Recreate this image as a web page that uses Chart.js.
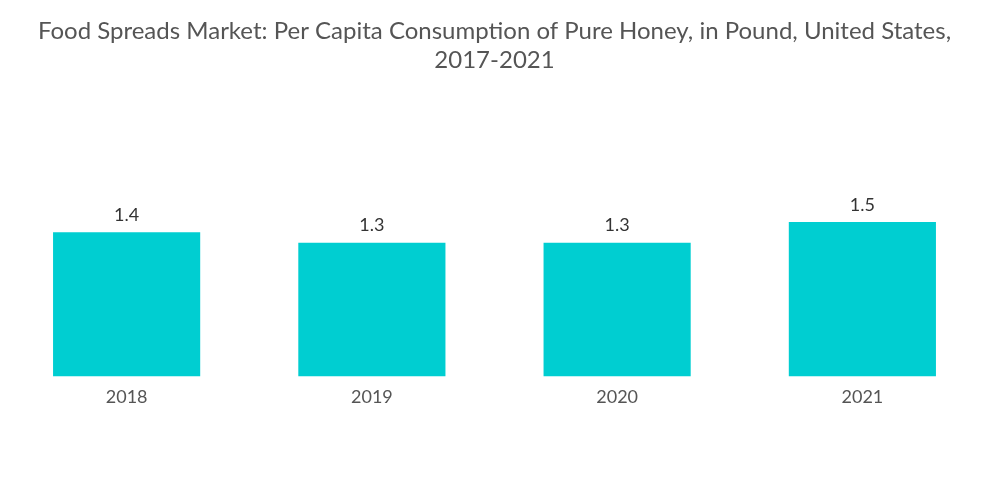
<!DOCTYPE html>
<html>
<head>
<meta charset="utf-8">
<script src="https://cdn.jsdelivr.net/npm/chart.js@4/dist/chart.umd.min.js"></script>
<style>
html,body{margin:0;padding:0;background:#fff;}
#wrap{width:1000px;height:504px;position:relative;}
</style>
</head>
<body>
<div id="wrap"><canvas id="c"></canvas></div>
<script>
const categories = ["2018", "2019", "2020", "2021"];
const values = [1.4, 1.3, 1.3, 1.5];
const valueLabels = ["1.4", "1.3", "1.3", "1.5"];
const titleLines = ["Food Spreads Market: Per Capita Consumption of Pure Honey, in Pound, United States,", "2017-2021"];

const FONT = "Lato, 'Noto Sans', sans-serif";

const valueLabelPlugin = {
  id: 'valueLabels',
  afterDatasetsDraw(chart) {
    const ctx = chart.ctx;
    const meta = chart.getDatasetMeta(0);
    ctx.save();
    ctx.font = "18px " + FONT;
    ctx.fillStyle = "#333333";
    ctx.textAlign = "center";
    ctx.textBaseline = "bottom";
    meta.data.forEach((bar, i) => {
      ctx.fillText(valueLabels[i], bar.x, bar.y - 8);
    });
    ctx.restore();
  }
};

new Chart(document.getElementById('c'), {
  type: 'bar',
  data: {
    labels: categories,
    datasets: [{
      data: values,
      backgroundColor: '#00CED1',
      borderWidth: 0,
      categoryPercentage: 1.0,
      barPercentage: 0.6
    }]
  },
  options: {
    responsive: true,
    maintainAspectRatio: false,
    animation: false,
    layout: { padding: { left: 4, right: 15, top: 0, bottom: 94 } },
    plugins: {
      legend: { display: false },
      tooltip: { enabled: false },
      title: {
        display: true,
        text: titleLines,
        color: '#555555',
        font: { family: FONT, size: 24, weight: 'normal', lineHeight: 1.2 },
        padding: { top: 17, bottom: 96 }
      }
    },
    scales: {
      x: {
        grid: { display: false, drawBorder: false },
        border: { display: false },
        ticks: { color: '#555555', font: { family: FONT, size: 18 }, padding: 2 }
      },
      y: {
        display: false,
        min: 0,
        max: 2
      }
    }
  },
  plugins: [valueLabelPlugin]
});
</script>
</body>
</html>
